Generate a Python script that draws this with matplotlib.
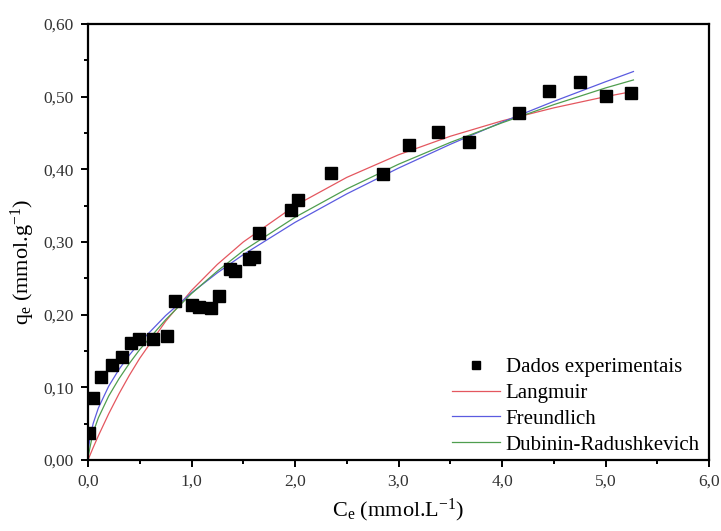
import numpy as np
import matplotlib
matplotlib.use("Agg")
from matplotlib import pyplot as plt
from matplotlib.ticker import MultipleLocator, FuncFormatter

plt.rcParams['font.family'] = ['Liberation Serif', 'DejaVu Serif']
plt.rcParams['mathtext.fontset'] = 'custom'
plt.rcParams['mathtext.rm'] = 'Liberation Serif'
plt.rcParams['mathtext.it'] = 'Liberation Serif:italic'

ce_exp = [0.01, 0.05, 0.13, 0.23, 0.33, 0.42, 0.49, 0.63, 0.76, 0.84, 1.00, 1.07,
          1.19, 1.27, 1.37, 1.42, 1.56, 1.60, 1.655, 1.96, 2.03, 2.35, 2.85, 3.10,
          3.385, 3.685, 4.16, 4.45, 4.75, 5.00, 5.25]
qe_exp = [0.037, 0.085, 0.114, 0.131, 0.142, 0.161, 0.166, 0.167, 0.170, 0.219, 0.213, 0.211,
          0.209, 0.226, 0.263, 0.260, 0.276, 0.280, 0.312, 0.344, 0.358, 0.395, 0.394, 0.433,
          0.451, 0.437, 0.477, 0.508, 0.520, 0.501, 0.505]

# curvas dos modelos
ce_fit = [0.0, 0.005, 0.02, 0.05, 0.1, 0.2, 0.3, 0.4, 0.5, 0.75, 1.0, 1.25, 1.5,
          2.0, 2.5, 3.0, 3.5, 4.0, 4.5, 5.0, 5.27]
q_langmuir = [0.0, 0.0017, 0.0069, 0.0171, 0.0333, 0.0636, 0.0913, 0.1167, 0.140, 0.1909,
              0.2333, 0.2692, 0.300, 0.350, 0.3889, 0.420, 0.4455, 0.4667, 0.4846, 0.500, 0.5074]
q_freundlich = [0.0, 0.0156, 0.0316, 0.0503, 0.0715, 0.1016, 0.1248, 0.1445, 0.1618, 0.1987,
                0.230, 0.2576, 0.2826, 0.327, 0.3662, 0.4017, 0.4344, 0.4649, 0.4935, 0.5205, 0.5346]
q_dr = [0.0, 0.007, 0.018, 0.038, 0.058, 0.088, 0.112, 0.133, 0.152, 0.193,
        0.229, 0.260, 0.288, 0.334, 0.373, 0.407, 0.437, 0.464, 0.489, 0.512, 0.523]

fig = plt.figure(figsize=(7.21, 5.31), dpi=100)
ax = fig.add_axes([88 / 721, 71 / 531, 621 / 721, 436 / 531])

ax.plot(ce_exp, qe_exp, 's', color='black', markersize=8.5, label='Dados experimentais', zorder=3)
ax.plot(ce_fit, q_langmuir, '-', color='#e4575f', lw=0.9, label='Langmuir')
ax.plot(ce_fit, q_freundlich, '-', color='#5b5be0', lw=0.9, label='Freundlich')
ax.plot(ce_fit, q_dr, '-', color='#4f9e4f', lw=0.9, label='Dubinin-Radushkevich')

ax.set_xlim(0, 6)
ax.set_ylim(0, 0.6)
ax.xaxis.set_major_locator(MultipleLocator(1))
ax.xaxis.set_minor_locator(MultipleLocator(0.5))
ax.yaxis.set_major_locator(MultipleLocator(0.1))
ax.yaxis.set_minor_locator(MultipleLocator(0.05))
ax.xaxis.set_major_formatter(FuncFormatter(lambda v, p: ('%.1f' % v).replace('.', ',')))
ax.yaxis.set_major_formatter(FuncFormatter(lambda v, p: ('%.2f' % v).replace('.', ',')))

for s in ax.spines.values():
    s.set_linewidth(1.6)
ax.tick_params(which='both', direction='out', width=1.4, labelsize=12.5, colors='black',
               labelcolor='#333333', top=False, right=False)
ax.tick_params(which='major', length=5, pad=5)
ax.tick_params(which='minor', length=3)

ax.set_xlabel(r'C$_\mathrm{e}$ (mmol.L$^{\mathrm{-1}}$)', fontsize=16)
ax.set_ylabel(r'q$_\mathrm{e}$ (mmol.g$^{\mathrm{-1}}$)', fontsize=16)
ax.xaxis.set_label_coords(0.5, -0.085)
ax.yaxis.set_label_coords(-0.082, 0.455)

ax.legend(loc='lower right', bbox_to_anchor=(1.0, -0.009), frameon=False, fontsize=15,
          handlelength=2.3, handletextpad=0.25, labelspacing=0.3, borderaxespad=0.05,
          markerscale=0.7)

fig.savefig('out.png', dpi=100)
